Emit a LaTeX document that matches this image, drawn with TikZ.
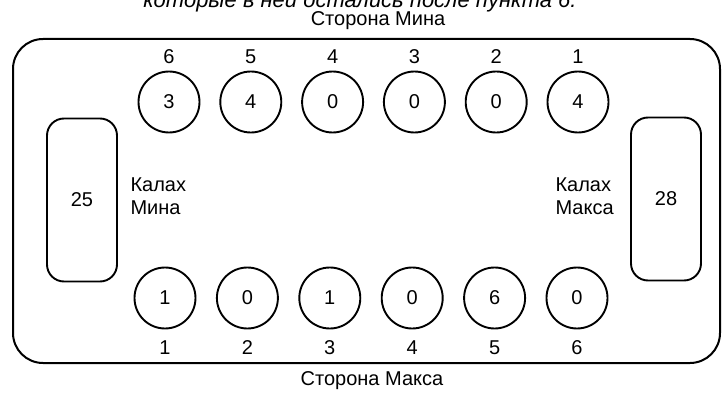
\documentclass[tikz,border=0pt]{standalone}
\usepackage{fontspec}
\setmainfont{Liberation Sans}
\usetikzlibrary{positioning}

\begin{document}
\begin{tikzpicture}[x=1pt, y=-1pt, font=\fontsize{20}{23}\selectfont,
  pit/.style={circle, draw, line width=1.9pt, minimum size=61pt, inner sep=0pt},
  kalah/.style={draw, line width=1.9pt, rounded corners=17pt, minimum width=70pt, minimum height=163pt, inner sep=0pt},
  pitnum/.style={inner sep=1pt}]
  \useasboundingbox (0,0) rectangle (724,396);

  % Obrezannaja podpis' sverhu
  \begin{scope}
    \clip (0,0) rectangle (724,396);
    \node[anchor=base, font=\fontsize{22}{25}\selectfont\itshape] (cap) at (360,8) {которые в ней остались после пункта 6.};
  \end{scope}

  % 1. Doska
  \draw[line width=2pt, rounded corners=30pt] (13,39) rectangle (720,363);
  \node (minside) at (378,21) {Сторона Мина};
  \node (maxside) at (372,381) {Сторона Макса};

  % 2. Kalahi
  \node[kalah] (kmin) at (82,200) {25};
  \node[kalah] (kmax) at (666,199) {28};
  \node[align=left, anchor=west] (kminlbl) at (127,196) {Калах\\Мина};
  \node[align=left, anchor=west] (kmaxlbl) at (552,196) {Калах\\Макса};

  % 3. Lunki Mina (sverhu, sprava nalevo)
  \foreach \i/\v in {1/4, 2/0, 3/0, 4/0, 5/4, 6/3} {
    \node[pit] (min\i) at ({578-(\i-1)*81.8},102) {\v};
    \node[pitnum] (minnum\i) at ({578-(\i-1)*81.8},57) {\i};
  }

  % 4. Lunki Maksa (snizu, sleva napravo)
  \foreach \i/\v in {1/1, 2/0, 3/1, 4/0, 5/6, 6/0} {
    \node[pit] (max\i) at ({165+(\i-1)*82.4},298) {\v};
    \node[pitnum] (maxnum\i) at ({165+(\i-1)*82.4},348) {\i};
  }

\end{tikzpicture}
\end{document}
